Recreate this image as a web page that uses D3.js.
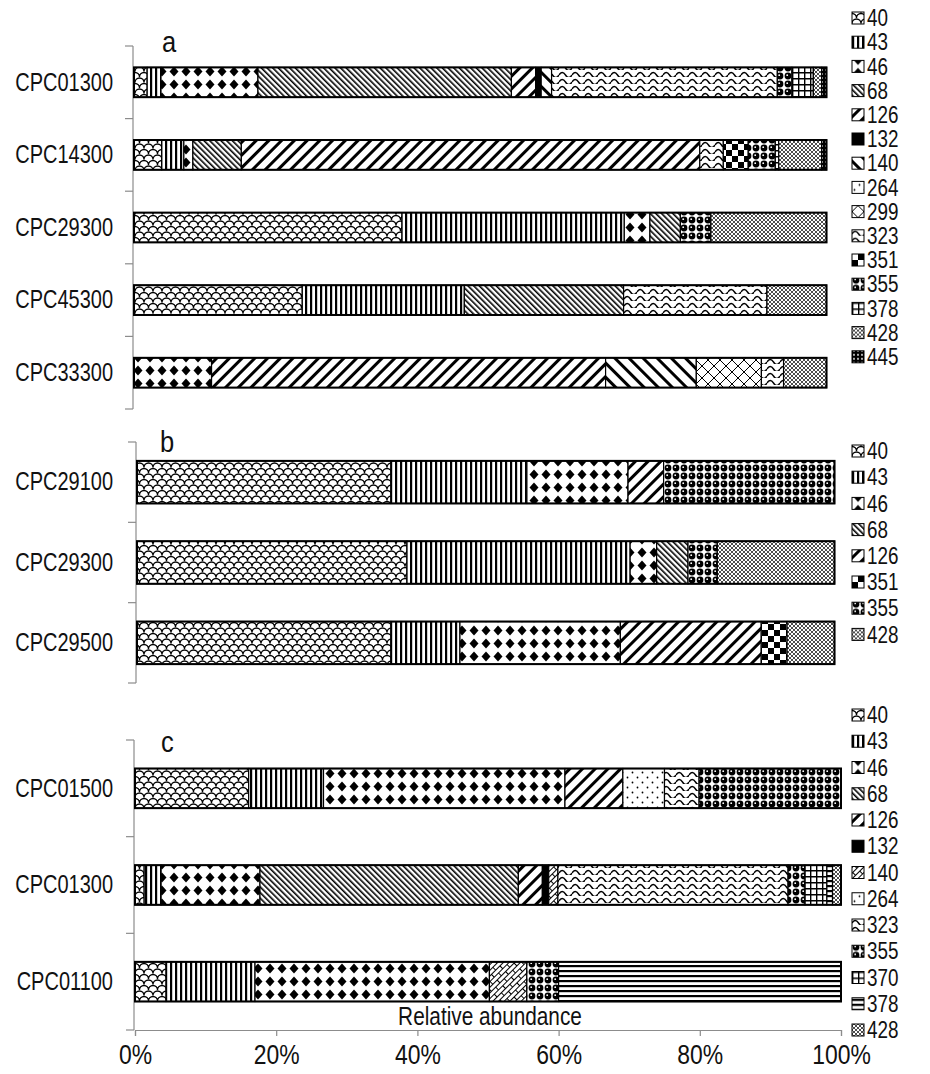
<!DOCTYPE html>
<html>
<head>
<meta charset="utf-8">
<script src="https://cdn.jsdelivr.net/npm/d3@7"></script>
<style>
  body { margin: 0; background: #fff; }
  svg text { font-family: 'Liberation Sans', Arial, sans-serif; fill: #111; }
</style>
</head>
<body>
<svg id="chart" width="930" height="1074"></svg>
<script>
// series (legend keys) and rows for each panel
var seriesA = ["40","43","46","68","126","132","140","264","299","323","351","355","378","428","445"];
var rowsA = ["CPC01300","CPC14300","CPC29300","CPC45300","CPC33300"];
var a_CPC01300 = [1.9, 2.0, 14.0, 36.6, 3.5, 0.8, 1.5, 0, 0, 32.6, 0, 2.1, 3.1, 1.2, 0.7];
var a_CPC14300 = [4.0, 3.2, 1.3, 7.0, 66.2, 0, 0, 0, 0, 3.4, 3.6, 3.9, 0.5, 6.2, 0.7];
var a_CPC29300 = [38.7, 32.1, 3.7, 4.4, 0, 0, 0, 0, 0, 0, 0, 4.4, 0, 16.7, 0];
var a_CPC45300 = [24.3, 23.4, 0, 23.0, 0, 0, 0, 0, 0, 20.7, 0, 0, 0, 8.6, 0];
var a_CPC33300 = [0, 0, 11.2, 0, 56.9, 0, 13.1, 0, 9.4, 3.2, 0, 0, 0, 6.2, 0];

var seriesB = ["40","43","46","68","126","351","355","428"];
var rowsB = ["CPC29100","CPC29300","CPC29500"];
var b_CPC29100 = [36.4, 19.5, 14.5, 0, 5.1, 0, 24.5, 0];
var b_CPC29300 = [38.7, 32.0, 3.8, 4.5, 0, 0, 4.2, 16.8];
var b_CPC29500 = [36.4, 9.9, 23.0, 0, 20.2, 3.7, 0, 6.8];

var seriesC = ["40","43","46","68","126","132","140","264","323","355","370","378","428"];
var rowsC = ["CPC01500","CPC01300","CPC01100"];
var c_CPC01500 = [16.1, 10.6, 34.2, 0, 8.2, 0, 0, 5.9, 4.9, 20.1, 0, 0, 0];
var c_CPC01300 = [1.3, 2.4, 14.0, 36.6, 3.4, 0.9, 1.3, 0, 32.6, 2.4, 3.1, 0.8, 1.2];
var c_CPC01100 = [4.4, 12.6, 33.2, 0, 0, 0, 5.3, 0, 0, 4.5, 0, 40.0, 0];

var xTicks = [0, 20, 40, 60, 80, 100];

// fill pattern used for every series, per panel
var patA = ["scales","vlines","diamonds","ddiag","wdiag","black","bdiag","sdots","lattice","wave","checker","circles","grid","fine","darkdots"];
var patB = ["scales","vlines","diamonds","ddiag","wdiag","checker","circles","fine"];
var patC = ["scales","vlines","diamonds","ddiag","wdiag","black","bricks","sdots","wave","circles","grid","hlines","fine"];

var svg = d3.select("#chart");
var defs = svg.append("defs");

function pattern(id, w, h, transform) {
    var p = defs.append("pattern")
        .attr("id", id)
        .attr("patternUnits", "userSpaceOnUse")
        .attr("width", w).attr("height", h);
    if (transform) p.attr("patternTransform", transform);
    p.append("rect").attr("width", w).attr("height", h).attr("fill", "#fff");
    return p;
}

var p;
p = pattern("scales", 18, 11);
p.append("path").attr("d", "M0,5.5 A4.5,4.5 0 0 1 9,5.5 A4.5,4.5 0 0 1 18,5.5 M-4.5,11 A4.5,4.5 0 0 1 4.5,11 A4.5,4.5 0 0 1 13.5,11 A4.5,4.5 0 0 1 22.5,11 M-4.5,0 A4.5,4.5 0 0 1 4.5,0 A4.5,4.5 0 0 1 13.5,0 A4.5,4.5 0 0 1 22.5,0")
    .attr("fill", "none").attr("stroke", "#000").attr("stroke-width", 1.3);
p = pattern("vlines", 5, 10);
p.append("rect").attr("width", 2.2).attr("height", 10).attr("fill", "#000");
p = pattern("diamonds", 12, 13);
p.append("path").attr("d", "M6,1.5 L10.5,6.5 L6,11.5 L1.5,6.5Z").attr("fill", "#000");
p = pattern("ddiag", 4, 4, "rotate(-45)");
p.append("rect").attr("width", 1.6).attr("height", 4).attr("fill", "#000");
p = pattern("wdiag", 9, 9, "rotate(45)");
p.append("rect").attr("width", 3).attr("height", 9).attr("fill", "#000");
p = pattern("bdiag", 10, 10, "rotate(-45)");
p.append("rect").attr("width", 3).attr("height", 10).attr("fill", "#000");
p = pattern("black", 4, 4);
p.append("rect").attr("width", 4).attr("height", 4).attr("fill", "#000");
p = pattern("bricks", 12, 8, "rotate(-45)");
p.append("path").attr("d", "M0,0.5 H12 M0,4.5 H12 M0.5,0 V4 M6.5,4 V8")
    .attr("stroke", "#000").attr("stroke-width", 1);
p = pattern("sdots", 10, 10);
p.append("circle").attr("cx", 2.5).attr("cy", 2.5).attr("r", 0.9).attr("fill", "#000");
p.append("circle").attr("cx", 7.5).attr("cy", 7.5).attr("r", 0.9).attr("fill", "#000");
p = pattern("lattice", 12, 12);
p.append("path").attr("d", "M0,0 L12,12 M12,0 L0,12").attr("stroke", "#000").attr("stroke-width", 1);
p = pattern("wave", 13, 7);
p.append("path").attr("d", "M0,5 Q3.25,0 6.5,5 T13,5").attr("fill", "none").attr("stroke", "#000").attr("stroke-width", 1.4);
p = pattern("checker", 12, 12);
p.append("rect").attr("width", 6).attr("height", 6).attr("fill", "#000");
p.append("rect").attr("x", 6).attr("y", 6).attr("width", 6).attr("height", 6).attr("fill", "#000");
p = pattern("circles", 8, 8);
p.append("circle").attr("cx", 4).attr("cy", 4).attr("r", 3.4).attr("fill", "#000");
p.append("circle").attr("cx", 3.2).attr("cy", 3.2).attr("r", 0.9).attr("fill", "#fff");
p = pattern("grid", 6, 6);
p.append("path").attr("d", "M0.7,0 V6 M0,0.7 H6").attr("stroke", "#000").attr("stroke-width", 1.4);
p = pattern("hlines", 10, 5);
p.append("rect").attr("width", 10).attr("height", 2.2).attr("fill", "#000");
p = pattern("fine", 4, 4);
p.append("path").attr("d", "M0,0 L4,4 M4,0 L0,4").attr("stroke", "#000").attr("stroke-width", 0.7);
p = pattern("darkdots", 4, 4);
p.append("rect").attr("width", 4).attr("height", 4).attr("fill", "#000");
p.append("circle").attr("cx", 2).attr("cy", 2).attr("r", 0.9).attr("fill", "#fff");

var axisColor = "#8c8c8c";

// narrow look: squeeze regular sans horizontally
function narrowText(sel, x, y, sx) {
    return sel.attr("transform", "translate(" + x + "," + y + ") scale(" + sx + ",1)");
}

function drawPanel(cfg) {
    var table = cfg.rows.map(function(name, i) {
        var o = {name: name};
        cfg.series.forEach(function(s, j) { o[s] = cfg.values[i][j]; });
        return o;
    });
    var x = d3.scaleLinear().domain([0, 100]).range(cfg.xRange);
    var y = d3.scaleBand().domain(cfg.rows).range(cfg.yRange).padding(0);
    var bh = y.step() * cfg.barRatio;
    var stack = d3.stack().keys(cfg.series)(table);

    var g = svg.append("g");
    // category axis with ticks on band edges
    var ax0 = x(0) - 1;
    g.append("line")
        .attr("x1", ax0).attr("x2", ax0)
        .attr("y1", cfg.yRange[0]).attr("y2", cfg.yRange[1])
        .attr("stroke", axisColor).attr("stroke-width", 1.2);
    g.selectAll(".tick")
        .data(d3.range(cfg.rows.length + 1))
        .enter().append("line")
        .attr("x1", ax0 - 8).attr("x2", ax0)
        .attr("y1", function(i) { return cfg.yRange[0] + i * y.step(); })
        .attr("y2", function(i) { return cfg.yRange[0] + i * y.step(); })
        .attr("stroke", axisColor).attr("stroke-width", 1.2);
    g.selectAll(".cat")
        .data(cfg.rows)
        .enter().append("text")
        .attr("transform", function(d) {
            return "translate(113," + (y(d) + y.step() / 2) + ") scale(0.8,1)";
        })
        .attr("text-anchor", "end")
        .attr("dominant-baseline", "central")
        .attr("font-size", 25)
        .text(function(d) { return d; });

    stack.forEach(function(layer, j) {
        g.selectAll(".seg" + j)
            .data(layer.filter(function(d) { return d[1] - d[0] > 0; }))
            .enter().append("rect")
            .attr("x", function(d) { return x(d[0]); })
            .attr("width", function(d) { return x(d[1]) - x(d[0]); })
            .attr("y", function(d) { return y(d.data.name) + (y.step() - bh) / 2; })
            .attr("height", bh)
            .attr("fill", "url(#" + cfg.patterns[j] + ")")
            .attr("stroke", "#000")
            .attr("stroke-width", 1.2);
    });
    // outer bar outline
    g.selectAll(".outline")
        .data(table)
        .enter().append("rect")
        .attr("x", x(0))
        .attr("width", function(d) {
            return x(d3.sum(cfg.series, function(s) { return d[s]; })) - x(0);
        })
        .attr("y", function(d) { return y(d.name) + (y.step() - bh) / 2; })
        .attr("height", bh)
        .attr("fill", "none")
        .attr("stroke", "#000")
        .attr("stroke-width", 2);

    narrowText(g.append("text"), cfg.letter[0], cfg.letter[1], 0.85)
        .attr("font-size", 30)
        .text(cfg.name);

    // legend
    var lg = g.selectAll(".leg")
        .data(cfg.series)
        .enter().append("g")
        .attr("transform", function(d, i) {
            return "translate(852," + (cfg.legendTop + i * cfg.legendStep) + ")";
        });
    lg.append("rect")
        .attr("x", 0).attr("y", -6)
        .attr("width", 12).attr("height", 12)
        .attr("fill", function(d, i) { return "url(#" + cfg.patterns[i] + ")"; })
        .attr("stroke", "#000").attr("stroke-width", 1);
    lg.append("text")
        .attr("transform", "translate(15,0) scale(0.82,1)")
        .attr("dominant-baseline", "central")
        .attr("font-size", 23)
        .text(function(d) { return d; });
    return {x: x, y: y};
}

drawPanel({
    name: "a", series: seriesA, rows: rowsA, patterns: patA,
    values: [a_CPC01300, a_CPC14300, a_CPC29300, a_CPC45300, a_CPC33300],
    xRange: [134, 826.5], yRange: [46, 409], barRatio: 0.41,
    letter: [162, 52], legendTop: 18, legendStep: 24.2
});
drawPanel({
    name: "b", series: seriesB, rows: rowsB, patterns: patB,
    values: [b_CPC29100, b_CPC29300, b_CPC29500],
    xRange: [137, 834.5], yRange: [442, 683], barRatio: 0.53,
    letter: [160, 452], legendTop: 451, legendStep: 26.2
});
var pc = drawPanel({
    name: "c", series: seriesC, rows: rowsC, patterns: patC,
    values: [c_CPC01500, c_CPC01300, c_CPC01100],
    xRange: [135, 841], yRange: [740, 1030], barRatio: 0.41,
    letter: [161, 752], legendTop: 715, legendStep: 26.25
});

// value axis of panel c
var xAxis = svg.append("g")
    .attr("transform", "translate(0,1030)")
    .call(d3.axisBottom(pc.x).tickValues(xTicks).tickSize(6).tickPadding(9)
        .tickFormat(function(d) { return d + "%"; }));
xAxis.select(".domain").attr("stroke", axisColor).attr("stroke-width", 1.2);
xAxis.selectAll(".tick line").attr("stroke", axisColor).attr("stroke-width", 1.2);
xAxis.selectAll(".tick text")
    .attr("font-size", 27)
    .attr("transform", "scale(0.85,1)")
    .attr("font-family", "'Liberation Sans', Arial, sans-serif")
    .attr("fill", "#111");

narrowText(svg.append("text"), 490, 1025, 0.8)
    .attr("text-anchor", "middle")
    .attr("font-size", 26)
    .text("Relative abundance");
</script>
</body>
</html>
